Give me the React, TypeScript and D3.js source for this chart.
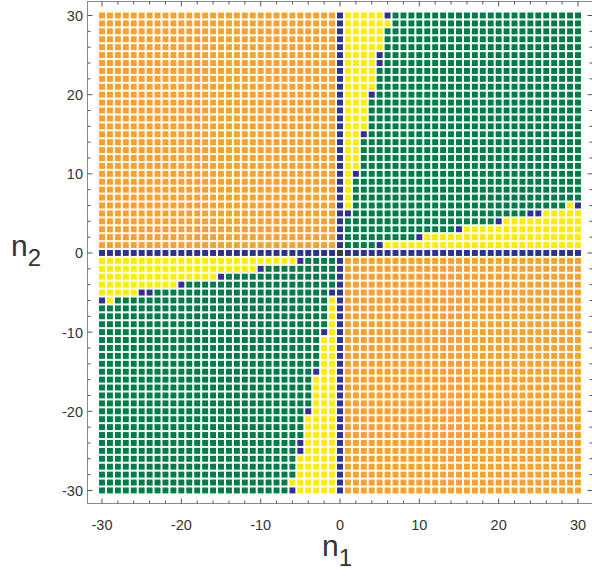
import React from "react";
import * as d3 from "d3";

// Axis categories
const n1Values = d3.range(-30, 31);
const n2Values = d3.range(-30, 31);
const tickMajor = [-30, -20, -10, 0, 10, 20, 30];
const tickMinor = d3.range(-30, 31, 2);

// Upper-right quadrant band (column n1 = k, k > 0).
// Same pattern appears transposed (row n2 = k) and point-mirrored in the lower-left quadrant.
const bandCols = [1, 2, 3, 4, 5, 6];
const yellowFrom = [6, 11, 16, 21, 26, 29];
const yellowTo = [30, 30, 30, 30, 30, 29];
const blueCells = [[5], [10], [15], [20], [24, 25], [30]];

const COLORS: Record<string, string> = {
  O: "#F8A12E",
  G: "#007D46",
  Y: "#FFEC00",
  B: "#2E3192",
  K: "#3A3A3A",
};

function bandClass(k: number, m: number): string | null {
  const i = bandCols.indexOf(k);
  if (i < 0) return null;
  if (blueCells[i].includes(m)) return "B";
  if (m >= yellowFrom[i] && m <= yellowTo[i]) return "Y";
  return null;
}

function classify(n1: number, n2: number): string {
  if (n1 === 0 && n2 === 0) return "K";
  if (n1 === 0 || n2 === 0) return "B";
  if ((n1 < 0 && n2 > 0) || (n1 > 0 && n2 < 0)) return "O";
  const a = Math.abs(n1);
  const b = Math.abs(n2);
  const c1 = bandClass(a, b);
  const c2 = bandClass(b, a);
  if (c1 === "B" || c2 === "B") return "B";
  if (c1 === "Y" || c2 === "Y") return "Y";
  return "G";
}

const cells: { n1: number; n2: number; c: string }[] = [];
n2Values.forEach((n2) =>
  n1Values.forEach((n1) => cells.push({ n1, n2, c: classify(n1, n2) }))
);

export default function App() {
  const W = 592;
  const H = 582;
  const left = 87.5;
  const right = 592.5;
  const top = 1.5;
  const bottom = 503.5;
  const x = d3.scaleLinear().domain([-31.83, 31.83]).range([left, right]);
  const y = d3.scaleLinear().domain([-31.65, 31.77]).range([bottom, top]);
  const half = 0.375;
  const font = "'Liberation Sans', Arial, sans-serif";
  const axisColor = "#8a8a8a";
  const textColor = "#333";

  return (
    <svg
      width={W}
      height={H}
      style={{ position: "absolute", left: 0, top: 0, background: "#fff" }}
    >
      {cells.map((d, i) => (
        <rect
          key={i}
          x={x(d.n1 - half)}
          y={y(d.n2 + half)}
          width={x(d.n1 + half) - x(d.n1 - half)}
          height={y(d.n2 - half) - y(d.n2 + half)}
          fill={COLORS[d.c]}
        />
      ))}
      {/* frame */}
      <rect
        x={left}
        y={top}
        width={right - left}
        height={bottom - top}
        fill="none"
        stroke={axisColor}
        strokeWidth={1}
      />
      {/* ticks */}
      {tickMinor.map((t) => {
        const L = tickMajor.includes(t) ? 5 : 3;
        return (
          <g key={"t" + t} stroke="#555" strokeWidth={1}>
            <line x1={x(t)} x2={x(t)} y1={bottom} y2={bottom - L} />
            <line x1={x(t)} x2={x(t)} y1={top} y2={top + L} />
            <line x1={left} x2={left + L} y1={y(t)} y2={y(t)} />
            <line x1={right} x2={right - L} y1={y(t)} y2={y(t)} />
          </g>
        );
      })}
      {tickMajor.map((t) => (
        <text
          key={"xl" + t}
          x={x(t)}
          y={530}
          textAnchor="middle"
          fontFamily={font}
          fontSize={14.5}
          fill={textColor}
        >
          {String(t)}
        </text>
      ))}
      {tickMajor.map((t) => (
        <text
          key={"yl" + t}
          x={83}
          y={y(t) + 5.5}
          textAnchor="end"
          fontFamily={font}
          fontSize={14.5}
          fill={textColor}
        >
          {String(t)}
        </text>
      ))}
      <text x={322} y={556} fontFamily={font} fontSize={30} fill={textColor}>
        n
        <tspan fontSize={24} dy={10}>
          1
        </tspan>
      </text>
      <text x={11} y={256} fontFamily={font} fontSize={30} fill={textColor}>
        n
        <tspan fontSize={24} dy={10}>
          2
        </tspan>
      </text>
    </svg>
  );
}
